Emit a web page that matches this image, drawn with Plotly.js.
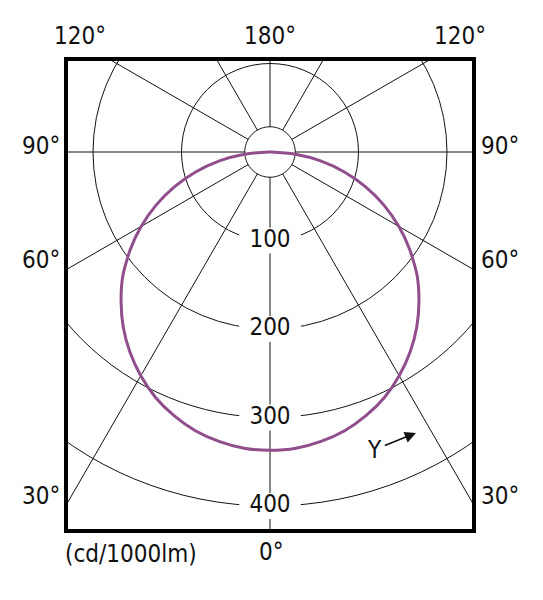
<!DOCTYPE html>
<html>
<head>
<meta charset="utf-8">
<script src="https://cdn.plot.ly/plotly-3.0.1.min.js"></script>
<style>
html,body{margin:0;padding:0;overflow:hidden;background:#fff;width:543px;height:600px;position:relative}
#plot{position:absolute;left:-164px;top:-282px;width:1000px;height:1000px}
</style>
</head>
<body>
<div id="plot"></div>
<script>
// ---- data ----
// luminous intensity (cd/1000lm) vs gamma angle, symmetric distribution
const gammaAngles = [0,5,10,15,20,25,30,35,40,45,50,55,60,65,70,75,80,85,90,180];
const intensity   = [337,336,332,326,317,306,292,276,258,238,217,193,168,142,115,87,58,29,1,0];
// radial scale labels
const radialTicks = [100,200,300,400];
const radialTickLabels = ['100','200','300','400'];
// angular grid
const angularTicks = [0,30,60,90,120,150,180,210,240,270,300,330];
const leftAngleLabels  = ['120°','90°','60°','30°'];
const rightAngleLabels = ['120°','90°','60°','30°'];
const topLabel = '180°';
const bottomLabel = '0°';
const unitLabel = '(cd/1000lm)';
const hubRadius = 28.5;

// ---- geometry helpers (page pixels -> paper of the enlarged plot div) ----
const DIV_LEFT = -164, DIV_TOP = -282, DIV_W = 1000, DIV_H = 1000;
const px = x => (x - DIV_LEFT) / DIV_W;
const py = y => 1 - (y - DIV_TOP) / DIV_H;
const PX_PER_CD = 0.885;
const POLAR_PX = 868;
const RMAX = (POLAR_PX / 2) / PX_PER_CD;

// build full symmetric curve
const theta = [], r = [];
for (let i = gammaAngles.length - 1; i >= 0; i--) { theta.push(-gammaAngles[i]); r.push(intensity[i]); }
for (let i = 1; i < gammaAngles.length; i++) { theta.push(gammaAngles[i]); r.push(intensity[i]); }

const hubTheta = [], hubR = [];
for (let a = 0; a <= 360; a += 5) { hubTheta.push(a); hubR.push(hubRadius); }

const FONT = 'DejaVu Sans Condensed, Lato, sans-serif';
const TXT = '#111111';
const FS = 24;

const traces = [
  { type:'scatterpolar', r:hubR, theta:hubTheta, mode:'lines', fill:'toself',
    fillcolor:'#ffffff', line:{color:'#111', width:1}, hoverinfo:'skip', showlegend:false },
  { type:'scatterpolar', r:radialTicks, theta:radialTicks.map(()=>0), mode:'markers+text',
    text:radialTickLabels, textposition:'middle center',
    textfont:{family:FONT, size:FS, color:TXT},
    marker:{symbol:'line-ew', size:44, color:'#ffffff', line:{color:'#ffffff', width:26}},
    hoverinfo:'skip', showlegend:false },
  { type:'scatterpolar', r:r, theta:theta, mode:'lines',
    line:{color:'#904e8d', width:3, shape:'spline', smoothing:0.6}, hoverinfo:'skip', showlegend:false }
];

// rectangle frame (page px)
const FX0 = 66, FY0 = 59, FX1 = 474, FY1 = 531;
const mask = (x0,y0,x1,y1) => ({type:'rect', xref:'paper', yref:'paper', layer:'above',
  x0:px(x0), x1:px(x1), y0:py(y0), y1:py(y1), fillcolor:'#ffffff', line:{width:0}});

const shapes = [
  mask(-200,-300,800,FY0), mask(-200,FY1,800,800),
  mask(-200,-300,FX0,800), mask(FX1,-300,800,800),
  {type:'rect', xref:'paper', yref:'paper', layer:'above',
   x0:px(FX0), x1:px(FX1), y0:py(FY0), y1:py(FY1), line:{color:'#000', width:4}, fillcolor:'rgba(0,0,0,0)'}
];

const ann = (text, x, y, extra) => Object.assign({xref:'paper', yref:'paper', x:px(x), y:py(y),
  text:text, showarrow:false, xanchor:'center', yanchor:'middle',
  font:{family:FONT, size:FS, color:TXT}}, extra||{});

const leftY = [37,146,260,496];
const annotations = [];
annotations.push(ann(leftAngleLabels[0], 80, 36));
annotations.push(ann(rightAngleLabels[0], 460, 36));
annotations.push(ann(topLabel, 270, 36));
for (let i = 1; i < leftAngleLabels.length; i++) {
  annotations.push(ann(leftAngleLabels[i], 41, leftY[i]));
  annotations.push(ann(rightAngleLabels[i], 500, leftY[i]));
}
annotations.push(ann(bottomLabel, 271, 552));
annotations.push(ann(unitLabel, 131, 554));
annotations.push({xref:'paper', yref:'paper', x:px(416), y:py(433), axref:'pixel', ayref:'pixel',
  ax:-42, ay:17, text:'Y', showarrow:true, arrowhead:2, arrowsize:1.4, arrowwidth:1.6,
  arrowcolor:'#111', standoff:0, startstandoff:2,
  font:{family:FONT, size:FS, color:TXT}});

const layout = {
  width: DIV_W, height: DIV_H,
  margin:{l:0,r:0,t:0,b:0,pad:0},
  paper_bgcolor:'#ffffff', plot_bgcolor:'#ffffff',
  showlegend:false,
  polar:{
    domain:{x:[0, POLAR_PX/DIV_W], y:[1-POLAR_PX/DIV_H, 1]},
    bgcolor:'#ffffff',
    hole:0,
    radialaxis:{range:[0,RMAX], tickvals:radialTicks, showticklabels:false, ticks:'',
      showline:false, showgrid:true, gridcolor:'#111', gridwidth:1, layer:'below traces'},
    angularaxis:{rotation:-90, direction:'clockwise', tickvals:angularTicks, showticklabels:false,
      ticks:'', showline:false, showgrid:true, gridcolor:'#111', gridwidth:1, layer:'below traces'}
  },
  shapes: shapes,
  annotations: annotations
};

Plotly.newPlot('plot', traces, layout, {staticPlot:true, displayModeBar:false});
</script>
</body>
</html>
